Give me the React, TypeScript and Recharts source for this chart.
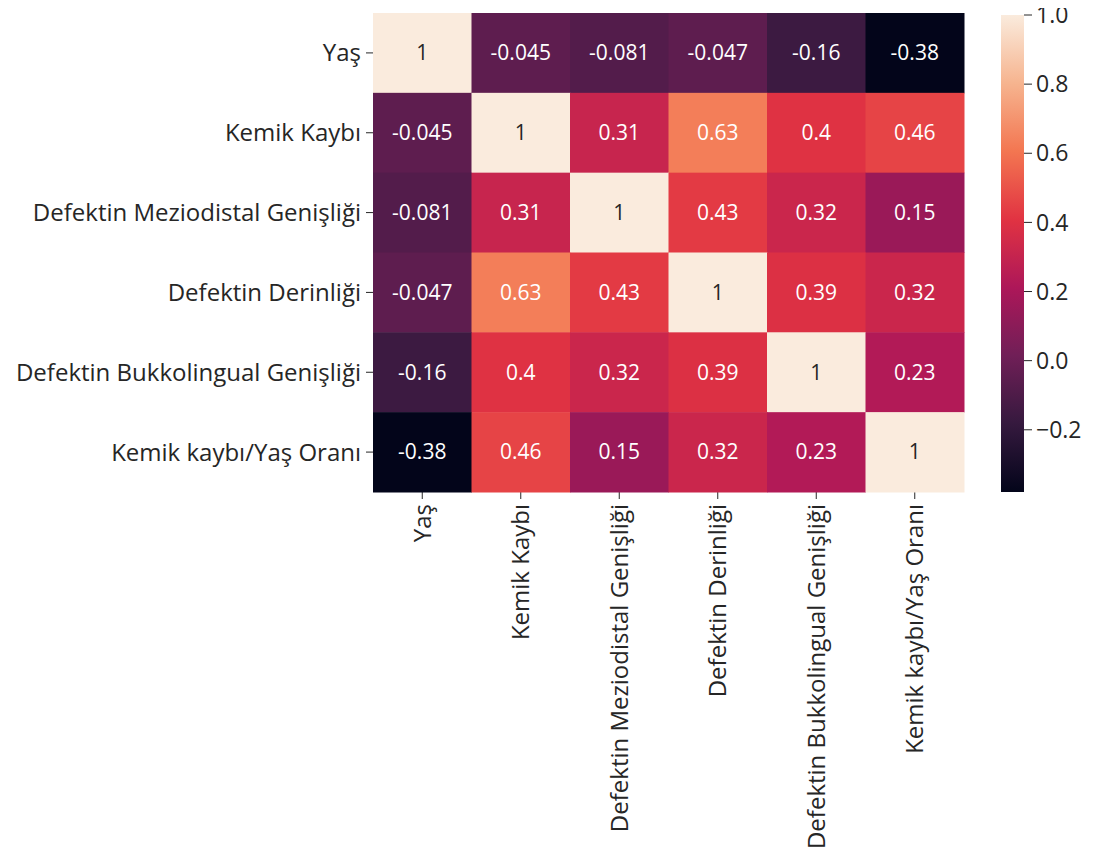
import {
  ScatterChart, Scatter, XAxis, YAxis,
  BarChart, Bar,
} from "recharts";

const LABELS = [
  "Yaş",
  "Kemik Kaybı",
  "Defektin Meziodistal Genişliği",
  "Defektin Derinliği",
  "Defektin Bukkolingual Genişliği",
  "Kemik kaybı/Yaş Oranı",
];

const rowYas = [1, -0.045, -0.081, -0.047, -0.16, -0.38];
const rowKemikKaybi = [-0.045, 1, 0.31, 0.63, 0.4, 0.46];
const rowMeziodistal = [-0.081, 0.31, 1, 0.43, 0.32, 0.15];
const rowDerinlik = [-0.047, 0.63, 0.43, 1, 0.39, 0.32];
const rowBukkolingual = [-0.16, 0.4, 0.32, 0.39, 1, 0.23];
const rowOran = [-0.38, 0.46, 0.15, 0.32, 0.23, 1];
const ROWS = [rowYas, rowKemikKaybi, rowMeziodistal, rowDerinlik, rowBukkolingual, rowOran];

const VMIN = -0.38;
const VMAX = 1.0;
const CBAR_TICKS = [-0.2, 0, 0.2, 0.4, 0.6, 0.8, 1.0];

// rocket colormap stops
const ROCKET = [
  [0, "#03051a"],
  [1 / 7, "#35193e"],
  [2 / 7, "#701f57"],
  [3 / 7, "#ad1759"],
  [4 / 7, "#e13342"],
  [5 / 7, "#f37651"],
  [6 / 7, "#f6b48f"],
  [1, "#faebdd"],
] as [number, string][];

const FONT = "'Open Sans', sans-serif";
const TXT = "#262626";

const PLOT_W = 591;
const PLOT_H = 479;
const N = LABELS.length;

function hexRgb(h: string) {
  return [1, 3, 5].map((i) => parseInt(h.slice(i, i + 2), 16));
}

function rocket(v: number) {
  const t = Math.max(0, Math.min(1, (v - VMIN) / (VMAX - VMIN)));
  for (let i = 1; i < ROCKET.length; i++) {
    const [p1, c1] = ROCKET[i];
    const [p0, c0] = ROCKET[i - 1];
    if (t <= p1) {
      const f = (t - p0) / (p1 - p0);
      const a = hexRgb(c0), b = hexRgb(c1);
      const c = a.map((x, k) => Math.round(x + (b[k] - x) * f));
      return `rgb(${c[0]},${c[1]},${c[2]})`;
    }
  }
  return ROCKET[ROCKET.length - 1][1];
}

function luminance(rgb: string) {
  const m = rgb.match(/\d+/g)!.map(Number).map((c) => {
    const s = c / 255;
    return s <= 0.03928 ? s / 12.92 : Math.pow((s + 0.055) / 1.055, 2.4);
  });
  return 0.2126 * m[0] + 0.7152 * m[1] + 0.0722 * m[2];
}

const cells = ROWS.flatMap((row, r) =>
  row.map((v, c) => ({ x: c + 0.5, y: r + 0.5, v }))
);

const centers = LABELS.map((_, i) => i + 0.5);

function Cell(props: any) {
  const { cx, cy, payload } = props;
  const w = PLOT_W / N;
  const h = PLOT_H / N;
  const fill = rocket(payload.v);
  const txt = luminance(fill) > 0.408 ? TXT : "#ffffff";
  return (
    <g>
      <rect x={cx - w / 2} y={cy - h / 2} width={w + 0.5} height={h + 0.5} fill={fill} />
      <text x={cx} y={cy} dy="0.35em" textAnchor="middle" fill={txt}
        fontSize={21} fontFamily={FONT}>
        {String(payload.v)}
      </text>
    </g>
  );
}

function XTick(props: any) {
  const { x, y, payload } = props;
  return (
    <text x={x} y={y} dy="0.35em" textAnchor="end" fill={TXT} fontSize={24}
      fontFamily={FONT} transform={`rotate(-90, ${x}, ${y})`}>
      {LABELS[Math.floor(payload.value)]}
    </text>
  );
}

export default function App() {
  return (
    <div style={{ position: "relative", width: 1101, height: 861, margin: -8, background: "#fff" }}>
      <div style={{ position: "absolute", left: 0, top: 0 }}>
        <ScatterChart width={968} height={860}
          margin={{ top: 13, left: 13, right: 4, bottom: 8 }}>
          <XAxis type="number" dataKey="x" domain={[0, N]} ticks={centers}
            height={360} axisLine={false} tickSize={7} tickMargin={5}
            tickLine={{ stroke: TXT }} tick={<XTick />} interval={0} />
          <YAxis type="number" dataKey="y" domain={[0, N]} ticks={centers} reversed
            width={360} axisLine={false} tickSize={7} tickMargin={5}
            tickLine={{ stroke: TXT }} interval={0}
            tick={{ fontSize: 24, fill: TXT, fontFamily: FONT }}
            tickFormatter={(v) => LABELS[Math.floor(v)]} />
          <Scatter data={cells} shape={<Cell />} isAnimationActive={false} />
        </ScatterChart>
      </div>
      <div style={{ position: "absolute", left: 993, top: -20 }}>
        <BarChart width={108} height={530} data={[{ name: "cb", range: [VMIN, VMAX] }]}
          margin={{ top: 35, left: 8, right: 4, bottom: 18 }} barCategoryGap={0}>
          <defs>
            <linearGradient id="rocketGrad" x1="0" y1="1" x2="0" y2="0">
              {ROCKET.map(([p, c]) => (
                <stop key={p} offset={`${p * 100}%`} stopColor={c} />
              ))}
            </linearGradient>
          </defs>
          <XAxis dataKey="name" hide />
          <YAxis orientation="right" domain={[VMIN, VMAX]} ticks={CBAR_TICKS}
            type="number" allowDataOverflow width={73} axisLine={false}
            tickSize={8} tickMargin={4} tickLine={{ stroke: TXT }} interval={0}
            tick={{ fontSize: 23, fill: TXT, fontFamily: FONT, textAnchor: "start" }}
            tickFormatter={(v) => (v < 0 ? `\u2212${Math.abs(v).toFixed(1)}` : v.toFixed(1))} />
          <Bar dataKey="range" fill="url(#rocketGrad)" isAnimationActive={false} />
        </BarChart>
      </div>
    </div>
  );
}
